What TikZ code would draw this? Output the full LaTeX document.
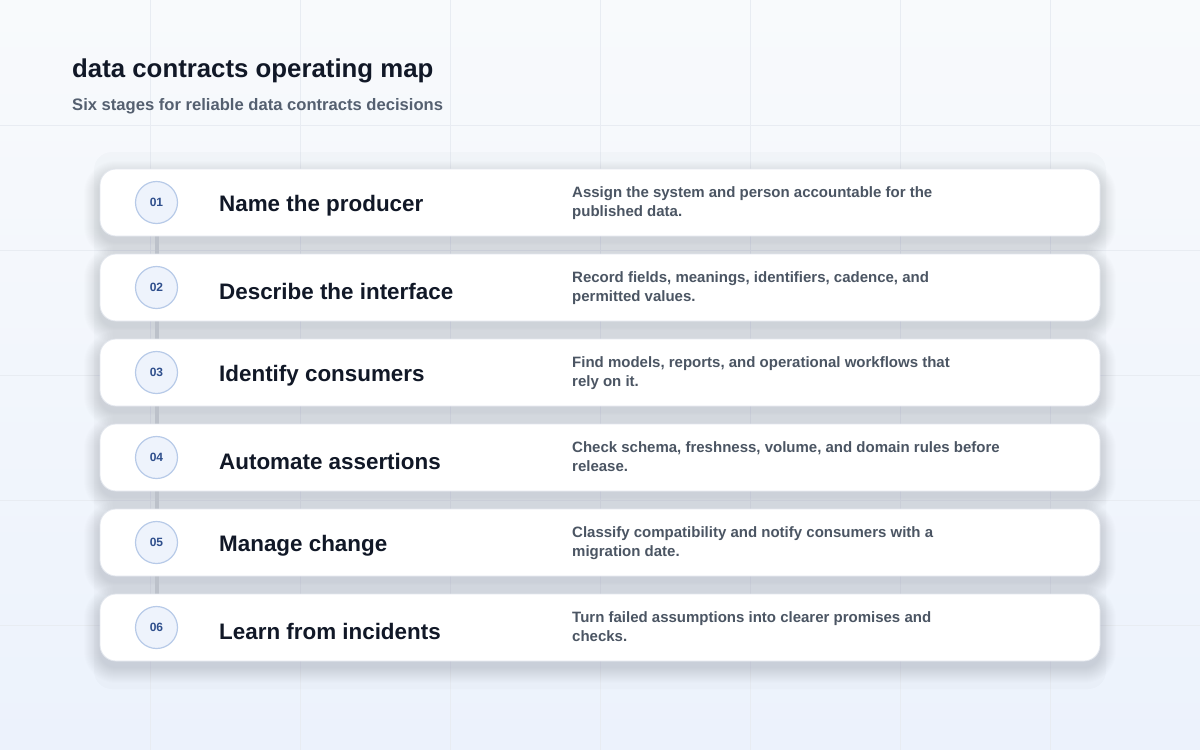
\documentclass[tikz,border=0pt]{standalone}
\usepackage{fontspec}
\setmainfont{Liberation Sans}
\usetikzlibrary{positioning}
\pgfdeclarelayer{back}
\pgfdeclarelayer{links}
\pgfsetlayers{back,links,main}
\definecolor{bgA}{HTML}{F8FAFC}
\definecolor{bgB}{HTML}{ECF2FC}
\definecolor{gridc}{HTML}{E8ECF2}
\definecolor{titlec}{HTML}{111827}
\definecolor{subc}{HTML}{556070}
\definecolor{descc}{HTML}{4B5563}
\definecolor{circfill}{HTML}{EEF3FC}
\definecolor{circline}{HTML}{B7CAE8}
\definecolor{numc}{HTML}{2E4E8C}
\definecolor{linkc}{HTML}{BCC1CA}
\definecolor{shadowc}{HTML}{26345C}
\definecolor{cardline}{HTML}{E3E7EE}
\tikzset{
  card/.style={draw=cardline, line width=0.8pt, fill=white, rounded corners=16pt,
    minimum width=1000pt, minimum height=67pt, inner sep=0pt},
  numcirc/.style={circle, draw=circline, line width=1.2pt, fill=circfill, minimum size=42pt, inner sep=0pt,
    font=\fontsize{12}{12}\selectfont\bfseries, text=numc},
  stagetitle/.style={anchor=west, font=\fontsize{22.4}{22.4}\selectfont\bfseries, text=titlec, inner sep=0pt},
  stagedesc/.style={anchor=north west, align=left, font=\fontsize{15}{19.5}\selectfont\bfseries, text=descc, inner sep=0pt},
  linkline/.style={draw=linkc, line width=4pt}
}
\begin{document}
\begin{tikzpicture}[x=1pt,y=-1pt]
\useasboundingbox (0,0) rectangle (1200,750);
\begin{pgfonlayer}{back}
\shade[left color=bgA, right color=bgB, shading angle=0] (0,0) rectangle (1200,750);
\shade[top color=bgA, bottom color=bgB, opacity=0.6] (0,0) rectangle (1200,750);
\foreach \gx in {150,300,...,1050} \draw[gridc, line width=0.8pt] (\gx,0) -- (\gx,750);
\foreach \gy in {125,250,...,625} \draw[gridc, line width=0.8pt] (0,\gy) -- (1200,\gy);
% panel
\fill[shadowc, opacity=0.02, rounded corners=18pt] (94,152) rectangle (1106,689);
% soft shadows
\foreach \k in {1,...,6}{
  \pgfmathsetmacro{\ty}{169+85*(\k-1)}
  \foreach \s in {1,...,16}{
    \pgfmathsetmacro{\rc}{16+\s}
    \fill[shadowc, opacity=0.0065, rounded corners=\rc pt] (100-\s,\ty+8-\s) rectangle (1100+\s,\ty+67+6+\s);
  }
}
\end{pgfonlayer}
% titles
\node[anchor=base west, inner sep=0pt, font=\fontsize{25.8}{25.8}\selectfont\bfseries, text=titlec] (title) at (72,77) {data contracts operating map};
\node[anchor=base west, inner sep=0pt, font=\fontsize{16.6}{16.6}\selectfont\bfseries, text=subc] (sub) at (72,110) {Six stages for reliable data contracts decisions};
% cards
\foreach \i/\t/\la/\lb [count=\k] in {
 01/Name the producer/Assign the system and person accountable for the/published data.,
 02/Describe the interface/{Record fields, meanings, identifiers, cadence, and}/permitted values.,
 03/Identify consumers/{Find models, reports, and operational workflows that}/rely on it.,
 04/Automate assertions/{Check schema, freshness, volume, and domain rules before}/release.,
 05/Manage change/Classify compatibility and notify consumers with a/migration date.,
 06/Learn from incidents/Turn failed assumptions into clearer promises and/checks.}
{
  \pgfmathsetmacro{\cy}{202.5+85*(\k-1)}
  \node[card] (card\k) at (600,\cy) {};
  \node[numcirc] (num\k) at (156.5,\cy) {\i};
  \node[stagetitle] (st\k) at (219,\cy+3.5) {\t};
  \node[stagedesc] (sd\k) at (572,\cy-16.5) {\la\\\lb};
}
% connectors between circles, behind the cards
\begin{pgfonlayer}{links}
\foreach \a/\b in {1/2,2/3,3/4,4/5,5/6}
  \draw[linkline] (num\a) -- (num\b);
\end{pgfonlayer}
\end{tikzpicture}
\end{document}
